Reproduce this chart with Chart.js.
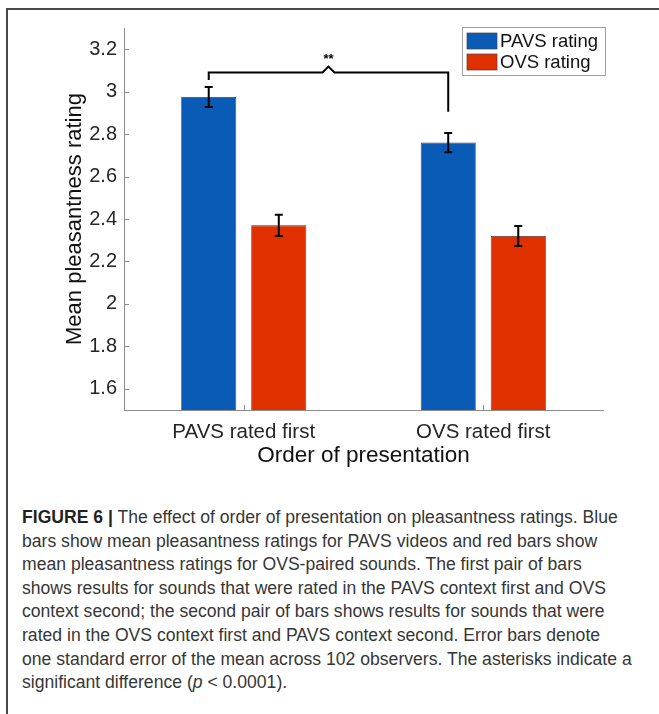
<!DOCTYPE html>
<html>
<head>
<meta charset="utf-8">
<script src="https://cdn.jsdelivr.net/npm/chart.js@4/dist/chart.umd.min.js"></script>
<style>
  html, body { margin: 0; padding: 0; background: #fff; }
  body { width: 659px; height: 714px; position: relative; overflow: hidden; }
  #frame {
    position: absolute; left: 6px; top: 8px; width: 660px; height: 720px;
    border-top: 2px solid #4a4a4a; border-left: 2px solid #4a4a4a;
  }
  #chart { position: absolute; left: 0; top: 0; }
  #caption {
    position: absolute; left: 22px; top: 506px;
    font-family: "Liberation Sans", Arial, sans-serif;
    font-size: 17.5px; line-height: 23.6px; color: #363636;
    transform-origin: 0 0; white-space: nowrap;
  }
  #caption b { color: #222; }
</style>
</head>
<body>
<div id="frame"></div>
<canvas id="chart" width="659" height="490"></canvas>
<div id="caption">
  <div class="ln"><b>FIGURE 6 |</b> The effect of order of presentation on pleasantness ratings. Blue</div>
  <div class="ln">bars show mean pleasantness ratings for PAVS videos and red bars show</div>
  <div class="ln">mean pleasantness ratings for OVS-paired sounds. The first pair of bars</div>
  <div class="ln">shows results for sounds that were rated in the PAVS context first and OVS</div>
  <div class="ln">context second; the second pair of bars shows results for sounds that were</div>
  <div class="ln">rated in the OVS context first and PAVS context second. Error bars denote</div>
  <div class="ln">one standard error of the mean across 102 observers. The asterisks indicate a</div>
  <div class="ln">significant difference (<i>p</i> &lt; 0.0001).</div>
</div>
<script>
// Conditions on the x axis
const categories = ['PAVS rated first', 'OVS rated first'];
// Mean pleasantness ratings and standard errors
const pavsMeans = [2.975, 2.76];
const pavsSE = [0.047, 0.045];
const ovsMeans = [2.37, 2.32];
const ovsSE = [0.05, 0.047];
// Y axis ticks
const yTicks = [1.6, 1.8, 2, 2.2, 2.4, 2.6, 2.8, 3, 3.2];
// Significance bracket (rating levels) and its marker
const bracketTop = 3.09;
const bracketEnds = [3.055, 2.905];
const sigLabel = '**';

const FONT = '"Liberation Sans", Arial, sans-serif';
const AXIS_GRAY = '#8c8c8c';
const TEXT = '#262626';

const annotations = {
  id: 'annotations',
  afterDatasetsDraw(chart) {
    const ctx = chart.ctx;
    const y = chart.scales.y;
    const x = chart.scales.x;
    const area = chart.chartArea;
    ctx.save();

    // inward tick marks
    ctx.strokeStyle = AXIS_GRAY;
    ctx.lineWidth = 1;
    ctx.beginPath();
    yTicks.forEach(v => {
      const py = Math.round(y.getPixelForValue(v)) + 0.5;
      ctx.moveTo(area.left, py); ctx.lineTo(area.left + 5, py);
    });
    categories.forEach((c, i) => {
      const px = Math.round(x.getPixelForValue(i)) + 0.5;
      ctx.moveTo(px, area.bottom); ctx.lineTo(px, area.bottom - 5);
    });
    ctx.stroke();

    // error bars
    const seSets = [pavsSE, ovsSE];
    ctx.strokeStyle = '#000';
    ctx.lineWidth = 2;
    chart.data.datasets.forEach((ds, di) => {
      const meta = chart.getDatasetMeta(di);
      meta.data.forEach((bar, i) => {
        const v = ds.data[i], se = seSets[di][i];
        const top = y.getPixelForValue(v + se);
        const bot = y.getPixelForValue(v - se);
        ctx.beginPath();
        ctx.moveTo(bar.x, top); ctx.lineTo(bar.x, bot);
        ctx.moveTo(bar.x - 4, top); ctx.lineTo(bar.x + 4, top);
        ctx.moveTo(bar.x - 4, bot); ctx.lineTo(bar.x + 4, bot);
        ctx.stroke();
      });
    });

    // significance bracket between the two PAVS bars
    const m0 = chart.getDatasetMeta(0);
    const xl = m0.data[0].x, xr = m0.data[1].x;
    const yb = y.getPixelForValue(bracketTop);
    const xm = (xl + xr) / 2;
    ctx.lineWidth = 2;
    ctx.beginPath();
    ctx.moveTo(xl, y.getPixelForValue(bracketEnds[0]));
    ctx.lineTo(xl, yb);
    ctx.lineTo(xm - 6, yb);
    ctx.lineTo(xm, yb - 6);
    ctx.lineTo(xm + 6, yb);
    ctx.lineTo(xr, yb);
    ctx.lineTo(xr, y.getPixelForValue(bracketEnds[1]));
    ctx.stroke();
    ctx.fillStyle = '#000';
    ctx.font = 'bold 13px ' + FONT;
    ctx.textAlign = 'center';
    ctx.textBaseline = 'middle';
    ctx.fillText(sigLabel, xm, yb - 13);

    // legend box
    const lx = 462, ly = 27, lw = 143, lh = 48;
    ctx.fillStyle = '#fff';
    ctx.fillRect(lx, ly, lw, lh);
    ctx.strokeStyle = '#a0a0a0';
    ctx.lineWidth = 1;
    ctx.strokeRect(lx + 0.5, ly + 0.5, lw, lh);
    ctx.font = '18.5px ' + FONT;
    ctx.textAlign = 'left';
    chart.data.datasets.forEach((ds, di) => {
      const sy = ly + 6 + di * 21;
      ctx.fillStyle = ds.backgroundColor;
      ctx.fillRect(lx + 5, sy, 30, 16);
      ctx.strokeStyle = '#444';
      ctx.lineWidth = 0.7;
      ctx.strokeRect(lx + 5, sy, 30, 16);
      ctx.fillStyle = '#111';
      ctx.fillText(ds.label, lx + 38, sy + 9);
    });
    ctx.restore();
  }
};

new Chart(document.getElementById('chart'), {
  type: 'bar',
  data: {
    labels: categories,
    datasets: [
      { label: 'PAVS rating', data: pavsMeans, backgroundColor: '#0a5bb5',
        borderColor: '#2d3a4a', borderWidth: 0.8, borderSkipped: false,
        categoryPercentage: 0.585, barPercentage: 0.786 },
      { label: 'OVS rating', data: ovsMeans, backgroundColor: '#e03000',
        borderColor: '#4a2a20', borderWidth: 0.8, borderSkipped: false,
        categoryPercentage: 0.585, barPercentage: 0.786 }
    ]
  },
  options: {
    responsive: false,
    devicePixelRatio: 1,
    animation: false,
    layout: { padding: { left: 0, top: 28, right: 56, bottom: 10 } },
    plugins: { legend: { display: false }, tooltip: { enabled: false } },
    scales: {
      x: {
        grid: { display: false, drawTicks: false },
        border: { display: true, color: AXIS_GRAY, width: 1 },
        ticks: { color: TEXT, font: { family: FONT, size: 20.5 }, padding: 10, maxRotation: 0 },
        title: { display: true, text: 'Order of presentation', color: '#111',
                 font: { family: FONT, size: 22.5 }, padding: { top: 0, bottom: 11 } },
        afterFit(s) { s.height = 70; }
      },
      y: {
        min: 1.5, max: 3.3,
        grid: { display: false, drawTicks: false },
        border: { display: true, color: AXIS_GRAY, width: 1 },
        afterBuildTicks(s) { s.ticks = yTicks.map(v => ({ value: v })); },
        ticks: { color: TEXT, font: { family: FONT, size: 20 }, padding: 7,
                 callback: v => String(v) },
        title: { display: true, text: 'Mean pleasantness rating', color: '#111',
                 font: { family: FONT, size: 22 }, padding: { top: 62, bottom: 0 } },
        afterFit(s) { s.width = 124; }
      }
    }
  },
  plugins: [annotations]
});

// fit the caption's first line to the column width
(function () {
  const cap = document.getElementById('caption');
  const first = cap.querySelector('.ln');
  const w = first.scrollWidth;
  const k = 610 / w;
  cap.style.transform = 'scaleX(' + k + ')';
})();
</script>
</body>
</html>
